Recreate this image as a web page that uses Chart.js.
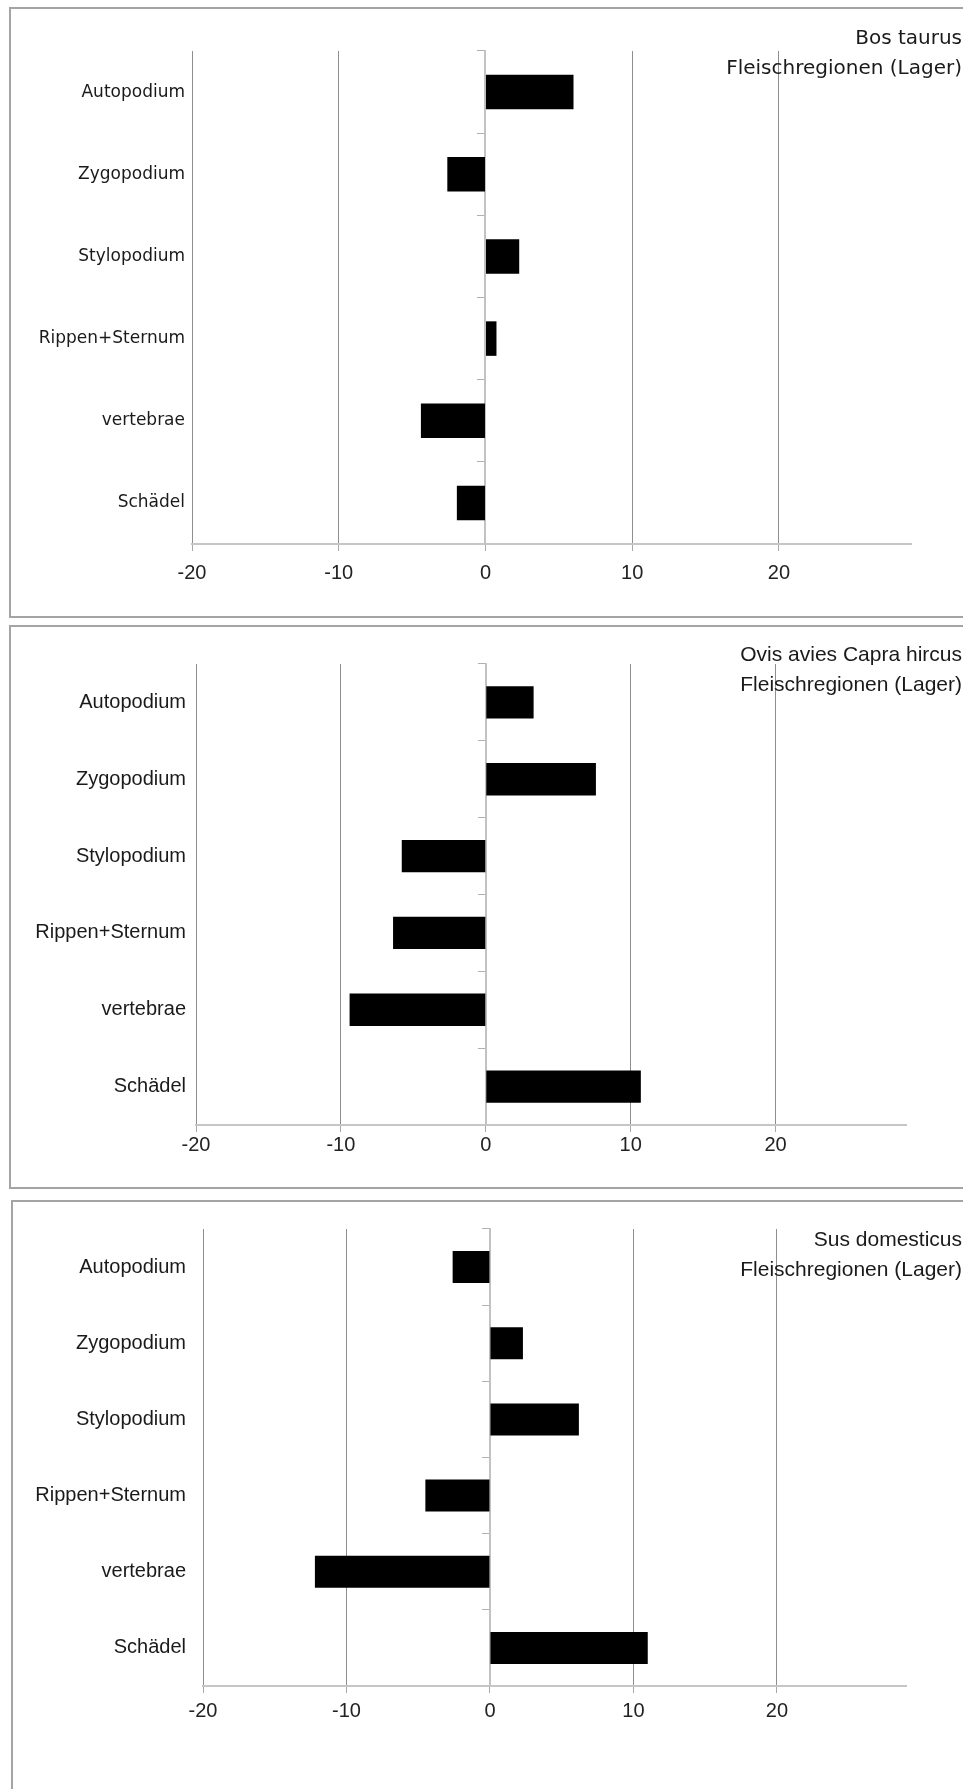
<!DOCTYPE html>
<html>
<head>
<meta charset="utf-8">
<script src="https://cdn.jsdelivr.net/npm/chart.js@4.4.1/dist/chart.umd.min.js"></script>
<style>
  html, body { margin: 0; padding: 0; background: #fff; width: 963px; height: 1789px; overflow: hidden; position: relative; }
  .frame { position: absolute; border: 2px solid #a4a4a4; box-sizing: border-box; }
  canvas { position: absolute; left: 0; }
  .title { position: absolute; right: 1px; text-align: right; color: #1a1a1a; white-space: nowrap; line-height: 30px; }
</style>
</head>
<body>
<div class="frame" style="left:9px;top:7px;width:990px;height:611px"></div>
<div class="frame" style="left:9px;top:625px;width:990px;height:564px"></div>
<div class="frame" style="left:11px;top:1200px;width:990px;height:700px"></div>

<canvas id="bosChart" width="963" height="610" style="top:7px"></canvas>
<canvas id="ovisChart" width="963" height="564" style="top:624px"></canvas>
<canvas id="susChart" width="963" height="589" style="top:1200px"></canvas>

<div class="title" style="top:22px;font:20px 'DejaVu Sans';line-height:30px">Bos taurus<br>Fleischregionen (Lager)</div>
<div class="title" style="top:639px;font:21px 'Liberation Sans';line-height:30px">Ovis avies Capra hircus<br>Fleischregionen (Lager)</div>
<div class="title" style="top:1224px;font:21px 'Liberation Sans';line-height:30px">Sus domesticus<br>Fleischregionen (Lager)</div>

<script>
// categories, top to bottom
const categories = ["Autopodium", "Zygopodium", "Stylopodium", "Rippen+Sternum", "vertebrae", "Schädel"];

// values
const bosTaurus = [6.0, -2.6, 2.3, 0.75, -4.4, -1.95];
const ovisCapra = [3.3, 7.6, -5.8, -6.4, -9.4, 10.7];
const susDomesticus = [-2.6, 2.3, 6.2, -4.5, -12.2, 11.0];

// x axis
const xTicks = [-20, -10, 0, 10, 20];
const xMin = -20;
const xMax = 29;

// where each panel's plot sits inside its canvas
const panels = [
  { id: "bosChart", values: bosTaurus, height: 610, top: 44, bottom: 537, left: 192, right: 911,
    labelFont: "DejaVu Sans", labelSize: 17, labelPad: 7, tickPad: 10 },
  { id: "ovisChart", values: ovisCapra, height: 564, top: 40, bottom: 501, left: 196, right: 906,
    labelFont: "Liberation Sans", labelSize: 20, labelPad: 10, tickPad: 1 },
  { id: "susChart", values: susDomesticus, height: 589, top: 27, bottom: 486, left: 203, right: 906,
    labelFont: "Liberation Sans", labelSize: 20, labelPad: 17, tickPad: 6 },
];

const axisH = 40;

function makeChart(p) {
  const canvas = document.getElementById(p.id);
  return new Chart(canvas.getContext("2d"), {
    type: "bar",
    data: {
      labels: categories,
      datasets: [{
        data: p.values,
        backgroundColor: "#000",
        borderWidth: 0,
        barPercentage: 0.42,
        categoryPercentage: 1,
      }],
    },
    options: {
      indexAxis: "y",
      responsive: false,
      animation: false,
      layout: {
        padding: { top: p.top, right: 963 - p.right, bottom: p.height - p.bottom - axisH, left: 0 },
      },
      plugins: {
        legend: { display: false },
        tooltip: { enabled: false },
      },
      scales: {
        x: {
          type: "linear",
          min: xMin,
          max: xMax,
          afterBuildTicks: (scale) => { scale.ticks = xTicks.map((v) => ({ value: v })); },
          afterFit: (scale) => { scale.height = axisH; },
          grid: {
            color: (ctx) => (ctx.tick && ctx.tick.value === 0 ? "rgba(0,0,0,0)" : "#8e8e8e"),
            tickColor: "#a8a8a8",
            lineWidth: 1,
            drawTicks: true,
            tickLength: 7,
          },
          border: { display: true, color: "#c6c6c6", width: 2 },
          ticks: { font: { family: "Liberation Sans", size: 20 }, color: "#222", padding: p.tickPad },
        },
        y: {
          type: "category",
          offset: true,
          afterFit: (scale) => { scale.width = p.left; },
          grid: { display: false, drawTicks: false },
          border: { display: false },
          ticks: { font: { family: p.labelFont, size: p.labelSize }, color: "#1a1a1a", padding: p.labelPad },
        },
        // category axis crossing at zero, only line and small tick marks
        yZero: {
          type: "category",
          labels: categories,
          offset: true,
          position: { x: 0 },
          ticks: { display: false },
          grid: { drawOnChartArea: false, offset: true, drawTicks: true, tickLength: 7, color: "#b0b0b0" },
          border: { display: true, color: "#c2c2c2", width: 2 },
        },
      },
    },
  });
}

panels.forEach(makeChart);
</script>
</body>
</html>
